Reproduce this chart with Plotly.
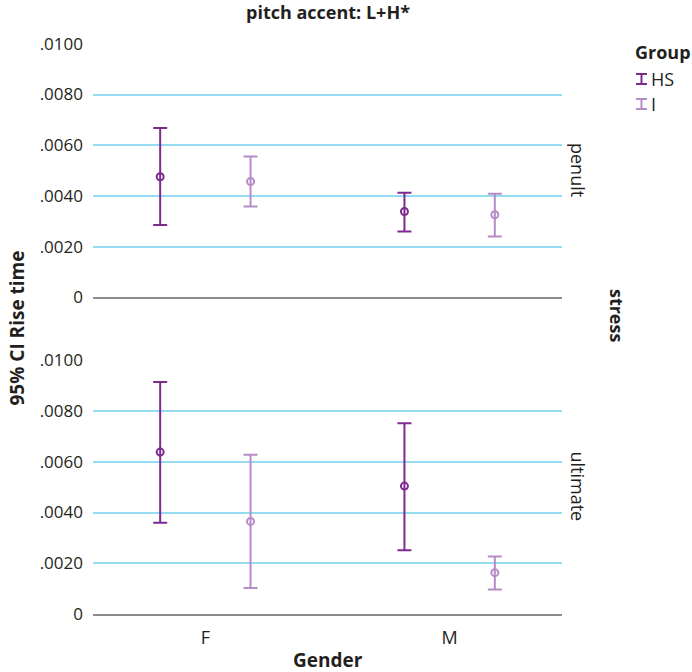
import plotly.graph_objects as go
from plotly.subplots import make_subplots

# Rise time (s): group means with 95% confidence limits, by stress position and gender
genders = ["F", "M"]
groups = ["HS", "I"]
stress_levels = ["penult", "ultimate"]

penult_HS_mean = [0.00476, 0.00339]
penult_HS_lower = [0.00286, 0.00260]
penult_HS_upper = [0.00668, 0.00413]
penult_I_mean = [0.00457, 0.00326]
penult_I_lower = [0.00359, 0.00240]
penult_I_upper = [0.00556, 0.00409]

ultimate_HS_mean = [0.00638, 0.00504]
ultimate_HS_lower = [0.00360, 0.00251]
ultimate_HS_upper = [0.00914, 0.00752]
ultimate_I_mean = [0.00365, 0.00163]
ultimate_I_lower = [0.00102, 0.00097]
ultimate_I_upper = [0.00628, 0.00227]

tick_vals = [0, 0.002, 0.004, 0.006, 0.008, 0.010]
tick_text = ["0", ".0020", ".0040", ".0060", ".0080", ".0100"]

colors = {"HS": "#7d2a8e", "I": "#b68cc8"}
grid_color = "#93dcf2"
text_color = "#231f20"
FONT = "Open Sans"

panels = {
    "penult": {
        "HS": (penult_HS_mean, penult_HS_lower, penult_HS_upper),
        "I": (penult_I_mean, penult_I_lower, penult_I_upper),
    },
    "ultimate": {
        "HS": (ultimate_HS_mean, ultimate_HS_lower, ultimate_HS_upper),
        "I": (ultimate_I_mean, ultimate_I_lower, ultimate_I_upper),
    },
}

dodge = {"HS": -0.185, "I": 0.185}

fig = make_subplots(rows=2, cols=1, shared_xaxes=True, vertical_spacing=0.1086)

for r, level in enumerate(stress_levels, start=1):
    for g in groups:
        mean, lower, upper = panels[level][g]
        xs = [i + dodge[g] for i in range(len(genders))]
        fig.add_trace(
            go.Scatter(
                x=xs,
                y=mean,
                mode="markers",
                name=g,
                showlegend=False,
                marker=dict(symbol="circle-open", size=7, color=colors[g],
                            line=dict(width=2, color=colors[g])),
                error_y=dict(
                    type="data",
                    symmetric=False,
                    array=[u - m for u, m in zip(upper, mean)],
                    arrayminus=[m - l for m, l in zip(mean, lower)],
                    color=colors[g],
                    thickness=2,
                    width=7,
                ),
            ),
            row=r, col=1,
        )

for r in (1, 2):
    fig.update_yaxes(
        range=[0, 0.01003],
        tickvals=tick_vals,
        ticktext=tick_text,
        showgrid=True,
        gridcolor=grid_color,
        gridwidth=1.5,
        zeroline=False,
        showline=False,
        ticks="",
        ticklabelstandoff=9,
        tickfont=dict(family=FONT, size=17, color=text_color),
        row=r, col=1,
    )
    fig.update_xaxes(
        range=[-0.46, 1.46],
        tickvals=list(range(len(genders))),
        ticktext=genders,
        showgrid=False,
        zeroline=False,
        showline=True,
        linecolor="#8c8c8c",
        linewidth=1.5,
        ticks="",
        ticklabelstandoff=7,
        tickfont=dict(family=FONT, size=18, color=text_color),
        row=r, col=1,
    )
fig.update_xaxes(showticklabels=False, row=1, col=1)
fig.update_xaxes(showticklabels=True, row=2, col=1)


def label(text, x, y, xshift=0, yshift=0, angle=0, size=18, xanchor="center"):
    return dict(text=text, x=x, y=y, xref="paper", yref="paper", xanchor=xanchor,
                yanchor="middle", xshift=xshift, yshift=yshift, textangle=angle,
                showarrow=False, font=dict(family=FONT, size=size, color=text_color))


annotations = [
    label("<b>pitch accent: L+H*</b>", 0.5, 1.0, yshift=31, size=18),
    label("<b>Gender</b>", 0.5, 0, yshift=-46, size=19),
    label("<b>95% CI Rise time</b>", 0, 0.5, xshift=-77, angle=-90, size=19),
    label("<b>stress</b>", 1, 0.522, xshift=55, angle=90, size=18),
    label("penult", 1, 0.7776, xshift=16, angle=90, size=18),
    label("ultimate", 1, 0.2233, xshift=16, angle=90, size=18),
    label("<b>Group</b>", 1, 1, xshift=71, yshift=-9, size=18, xanchor="left"),
]

# Legend entries drawn as error-bar glyphs beside their labels
shapes = []
for k, g in enumerate(groups):
    dy = 36 + 25 * k
    annotations.append(label(g, 1, 1, xshift=87, yshift=-dy, size=18, xanchor="left"))
    yc = 1 - dy / 571.0
    h = 5 / 571.0
    x0 = 1 + 74 / 469.0
    x1 = 1 + 85 / 469.0
    xm = (x0 + x1) / 2
    line = dict(color=colors[g], width=2)
    shapes += [
        dict(type="line", xref="paper", yref="paper", x0=xm, x1=xm, y0=yc - h, y1=yc + h, line=line),
        dict(type="line", xref="paper", yref="paper", x0=x0, x1=x1, y0=yc + h, y1=yc + h, line=line),
        dict(type="line", xref="paper", yref="paper", x0=x0, x1=x1, y0=yc - h, y1=yc - h, line=line),
    ]

fig.update_layout(
    width=692,
    height=672,
    margin=dict(l=93, r=130, t=43, b=58),
    paper_bgcolor="white",
    plot_bgcolor="white",
    font=dict(family=FONT, size=17, color=text_color),
    showlegend=False,
    annotations=annotations,
    shapes=shapes,
)

fig.write_html("out.html")
